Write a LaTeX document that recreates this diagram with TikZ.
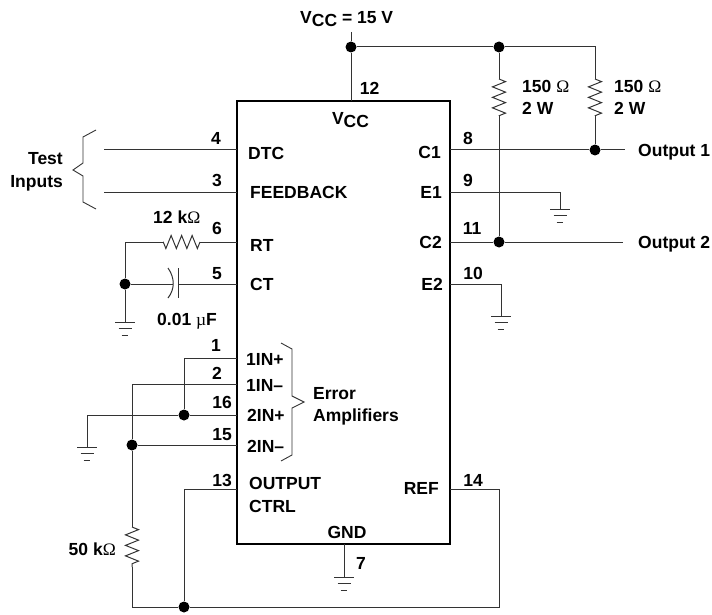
\documentclass[tikz,border=0pt]{standalone}
\usepackage{fontspec}
\setmainfont{Liberation Sans}
\newfontfamily\greekfont{Liberation Serif}
\usetikzlibrary{decorations.pathmorphing}

\newcommand{\ohmsign}{{\greekfont\mdseries Ω}}
\newcommand{\microsign}{{\greekfont\mdseries µ}}
\newcommand{\vcclabel}{V\raisebox{-3pt}{CC}}

\tikzset{
    wire/.style={line width=1pt, black!80},
    resistor/.style={wire, decorate, decoration={zigzag, segment length=10.5pt, amplitude=6.5pt}},
    brace/.style={line width=0.9pt, black!80},
    dot/.style={circle, fill=black, inner sep=0pt, minimum size=11pt},
    lbl/.style={font=\fontsize{17.5}{20}\selectfont\bfseries, inner sep=0pt, text height=12.5pt, text depth=0pt},
    gnd/.pic={\draw[wire] (-10, 0) -- (10, 0) (-6.5, 6.5) -- (6.5, 6.5) (-3.3, 13) -- (3.3, 13);}
}

\begin{document}
\begin{tikzpicture}[x=1pt, y=-1pt]

\useasboundingbox (0, 0) rectangle (712, 615);

\node[draw, line width=2.6pt, inner sep=0pt, minimum width=213pt, minimum height=443pt] (ic) at (343.5, 322.5) {};

\coordinate (supplytop) at (351, 32);
\coordinate (pin12) at (351, 101);
\node[dot] (vcc) at (351, 47) {};
\node[dot] (rail) at (499, 47) {};
\coordinate (railend) at (595, 47);
\coordinate (ra) at (499, 79);
\coordinate (rb) at (499, 116);
\coordinate (rc) at (595, 79);
\coordinate (rd) at (595, 116);
\node[dot] (out1) at (595, 150) {};
\node[dot] (out2) at (499, 242) {};

\draw[wire] (supplytop) -- (vcc) -- (pin12);
\draw[wire] (vcc) -- (rail) -- (railend) -- (rc);
\draw[wire] (rail) -- (ra);
\draw[resistor] (ra) -- (rb);
\draw[wire] (rb) -- (out2);
\draw[resistor] (rc) -- (rd);
\draw[wire] (rd) -- (out1);

\coordinate (pin8) at (450, 150);
\coordinate (out1end) at (625, 150);
\coordinate (pin11) at (450, 242);
\coordinate (out2end) at (623, 242);
\draw[wire] (pin8) -- (out1) -- (out1end);
\draw[wire] (pin11) -- (out2) -- (out2end);

\coordinate (pin9) at (450, 192);
\coordinate (gnd9) at (560, 209);
\coordinate (pin10) at (450, 284);
\coordinate (gnd10) at (501, 316);
\draw[wire] (pin9) -| (gnd9);
\draw[wire] (pin10) -| (gnd10);
\pic at (gnd9) {gnd};
\pic at (gnd10) {gnd};

\coordinate (pin4) at (237, 150);
\coordinate (test4) at (104, 150);
\coordinate (pin3) at (237, 192);
\coordinate (test3) at (104, 192);
\draw[wire] (test4) -- (pin4);
\draw[wire] (test3) -- (pin3);
\draw[brace] (96, 130) -- (83, 137) -- (83, 163) -- (73, 170) -- (83, 176) -- (83, 202) -- (96, 209);

\coordinate (pin6) at (237, 242);
\coordinate (rte) at (200, 242);
\coordinate (rts) at (163, 242);
\coordinate (rtcorner) at (125, 242);
\node[dot] (timing) at (125, 284) {};
\coordinate (gnd5) at (125, 322);
\coordinate (capl) at (173, 284);
\coordinate (capr) at (178, 284);
\coordinate (pin5) at (237, 284);
\draw[wire] (pin6) -- (rte);
\draw[resistor] (rte) -- (rts);
\draw[wire] (rts) -- (rtcorner) -- (timing) -- (gnd5);
\draw[wire] (timing) -- (capl);
\draw[wire] (capr) -- (pin5);
\draw[wire] (178, 268) -- (178, 298);
\draw[wire] (168, 268) .. controls (175, 278) and (175, 289) .. (168, 298);
\pic at (gnd5) {gnd};

\coordinate (pin1) at (237, 358);
\coordinate (pin2) at (237, 384);
\coordinate (pin16) at (237, 415);
\coordinate (pin15) at (237, 445);
\coordinate (pin13) at (237, 489);
\coordinate (pin14) at (450, 489);
\coordinate (gnd16) at (87, 447);
\node[dot] (inplus) at (184, 415) {};
\node[dot] (inminus) at (132, 445) {};
\node[dot] (ctrl) at (184, 607) {};
\coordinate (corner2) at (132, 384);
\coordinate (r50a) at (132, 527);
\coordinate (r50b) at (132, 567);
\coordinate (botleft) at (132, 607);
\coordinate (botright) at (499, 607);
\coordinate (corner14) at (499, 489);
\draw[wire] (pin1) -| (inplus);
\draw[wire] (pin16) -- (inplus) -- (87, 415) -- (gnd16);
\draw[wire] (pin2) -- (corner2) -- (inminus) -- (r50a);
\draw[wire] (pin15) -- (inminus);
\draw[resistor] (r50a) -- (r50b);
\draw[wire] (r50b) -- (botleft) -- (ctrl) -- (botright) -- (corner14) -- (pin14);
\draw[wire] (pin13) -| (ctrl);
\draw[brace] (281, 343) -- (292, 349) -- (292, 396) -- (304, 402) -- (292, 408) -- (292, 455) -- (281, 461);
\pic at (gnd16) {gnd};

\coordinate (pin7) at (344, 544);
\coordinate (gnd7) at (344, 577);
\draw[wire] (pin7) -- (gnd7);
\pic at (gnd7) {gnd};

\node[lbl, anchor=west] (vcceq) at (300, 17) {\vcclabel{} = 15 V};
\node[lbl] (n12) at (369.5, 88) {12};
\node[lbl] (vccin) at (350.5, 118) {\vcclabel};
\node[lbl] (n8) at (468, 138) {8};
\node[lbl] (n9) at (468, 180) {9};
\node[lbl] (n11) at (472, 228) {11};
\node[lbl] (n10) at (473, 273) {10};
\node[lbl] (n14) at (473, 480) {14};
\node[lbl, anchor=east] (c1) at (441, 152) {C1};
\node[lbl, anchor=east] (e1) at (442, 192) {E1};
\node[lbl, anchor=east] (c2) at (442, 242) {C2};
\node[lbl, anchor=east] (e2) at (443, 284) {E2};
\node[lbl, anchor=east] (ref) at (439, 488) {REF};
\node[lbl, anchor=west] (ra1) at (522, 86) {150 \ohmsign};
\node[lbl, anchor=west] (ra2) at (522, 108) {2 W};
\node[lbl, anchor=west] (rc1) at (614, 86) {150 \ohmsign};
\node[lbl, anchor=west] (rc2) at (614, 108) {2 W};
\node[lbl, anchor=west] (outa) at (638, 150) {Output 1};
\node[lbl, anchor=west] (outb) at (638, 242) {Output 2};

\node[lbl] (n4) at (216, 138) {4};
\node[lbl] (n3) at (217, 180) {3};
\node[lbl] (n6) at (217, 228) {6};
\node[lbl] (n5) at (217, 273) {5};
\node[lbl, anchor=west] (dtc) at (248, 153) {DTC};
\node[lbl, anchor=west] (fb) at (250, 192) {FEEDBACK};
\node[lbl, anchor=west] (rt) at (250, 245) {RT};
\node[lbl, anchor=west] (ct) at (250, 284) {CT};
\node[lbl, anchor=east] (test) at (63, 158) {Test};
\node[lbl, anchor=east] (inputs) at (63, 181) {Inputs};
\node[lbl, anchor=west] (r12k) at (153, 217) {12 k\ohmsign};
\node[lbl, anchor=west] (cval) at (157, 319) {0.01 \microsign{}F};

\node[lbl] (n1) at (216, 345) {1};
\node[lbl] (n2) at (217, 373) {2};
\node[lbl] (n16) at (222, 402) {16};
\node[lbl] (n15) at (222, 434) {15};
\node[lbl] (n13) at (222, 480) {13};
\node[lbl, anchor=west] (ina) at (246, 359) {1IN+};
\node[lbl, anchor=west] (inb) at (246, 385) {1IN--};
\node[lbl, anchor=west] (inc) at (247, 415) {2IN+};
\node[lbl, anchor=west] (ind) at (247, 446) {2IN--};
\node[lbl, anchor=west] (err) at (313, 393) {Error};
\node[lbl, anchor=west] (amp) at (313, 415) {Amplifiers};
\node[lbl, anchor=west] (outp) at (249, 483) {OUTPUT};
\node[lbl, anchor=west] (ctrl2) at (249, 506) {CTRL};
\node[lbl] (gndl) at (347, 532) {GND};
\node[lbl] (n7) at (361, 563) {7};
\node[lbl, anchor=east] (r50) at (116, 549) {50 k\ohmsign};

\end{tikzpicture}
\end{document}
